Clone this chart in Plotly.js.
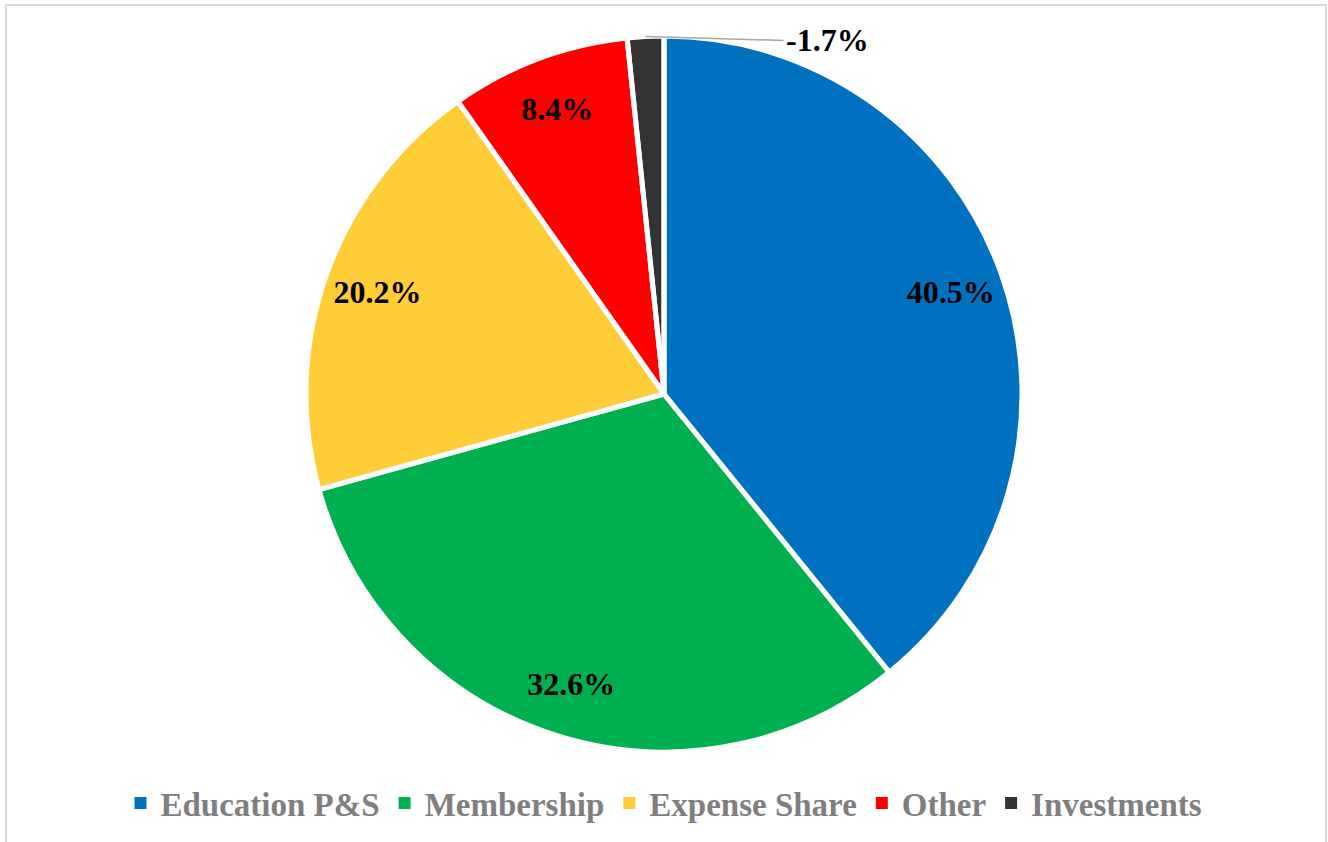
<!DOCTYPE html>
<html>
<head>
<meta charset="utf-8">
<script src="https://cdn.plot.ly/plotly-3.0.1.min.js"></script>
<style>
  html, body { margin: 0; padding: 0; background: #ffffff; }
  #chart { width: 1328px; height: 842px; }
</style>
</head>
<body>
<div id="chart"></div>
<script>
// ---- data ----
const categories = ["Education P&S", "Membership", "Expense Share", "Other", "Investments"];
const shares = [40.5, 32.6, 20.2, 8.4, -1.7];   // percent, as labelled
const colors = ["#0070C0", "#00B050", "#FFCD38", "#FF0000", "#333333"];

// ---- derived ----
const sizes = shares.map(v => Math.abs(v));
const labelText = shares.map(v => v.toFixed(1) + "%");
const insideIdx = shares.map(v => v >= 0);

const W = 1328, H = 842;
const cx = 664, cy = 394, R = 358;
const domX = [(cx - R) / W, (cx + R) / W];
const domY = [(H - cy - R) / H, (H - cy + R) / H];

const labelFont = { family: "Liberation Serif", size: 32, color: "#000000", weight: "bold" };
const clear = categories.map(() => "rgba(0,0,0,0)");

const common = {
  type: "pie",
  labels: categories,
  values: sizes,
  sort: false,
  direction: "clockwise",
  rotation: 0,
  domain: { x: domX, y: domY },
  hoverinfo: "skip"
};

// filled slices (legend source)
const pieFill = Object.assign({}, common, {
  marker: { colors: colors, line: { width: 0 } },
  textinfo: "none",
  showlegend: true
});

// white separators
const pieLines = Object.assign({}, common, {
  marker: { colors: clear, line: { color: "#ffffff", width: 5 } },
  textinfo: "none",
  showlegend: false
});

// data labels placed in outer ring
const pieText = Object.assign({}, common, {
  hole: 0.7,
  marker: { colors: clear, line: { width: 0 } },
  text: labelText.map((t, i) => insideIdx[i] ? t : ""),
  textinfo: "text",
  textposition: "inside",
  insidetextorientation: "horizontal",
  insidetextfont: labelFont,
  showlegend: false
});

// leader label for negative slice(s)
const total = sizes.reduce((a, b) => a + b, 0);
const annotations = [];
let cum = 0;
sizes.forEach((s, i) => {
  const mid = (cum + s / 2) / total * 2 * Math.PI;
  cum += s;
  if (!insideIdx[i]) {
    const px = cx + R * Math.sin(mid);
    const py = cy - R * Math.cos(mid);
    annotations.push({
      xref: "paper", yref: "paper",
      x: px / W, y: (H - py) / H,
      text: labelText[i],
      showarrow: true, arrowhead: 0, arrowwidth: 1.5, arrowcolor: "#a6a6a6",
      ax: 138, ay: 4,
      xanchor: "left", yanchor: "middle",
      standoff: 0,
      font: labelFont
    });
  }
});

const layout = {
  width: W, height: H,
  margin: { l: 0, r: 0, t: 0, b: 0 },
  paper_bgcolor: "#ffffff",
  showlegend: true,
  legend: {
    orientation: "h",
    x: 0.5, xanchor: "center",
    y: (H - 803) / H, yanchor: "middle",
    font: { family: "Liberation Serif", size: 33, color: "#7f7f7f", weight: "bold" },
    itemclick: false, itemdoubleclick: false
  },
  shapes: [{
    type: "rect", xref: "paper", yref: "paper",
    x0: 6 / W, x1: 1326 / W, y0: -0.05, y1: (H - 5) / H,
    line: { color: "#d9d9d9", width: 2 }, layer: "below"
  }],
  annotations: annotations
};

Plotly.newPlot("chart", [pieFill, pieLines, pieText], layout, { displayModeBar: false, staticPlot: true });
</script>
</body>
</html>
